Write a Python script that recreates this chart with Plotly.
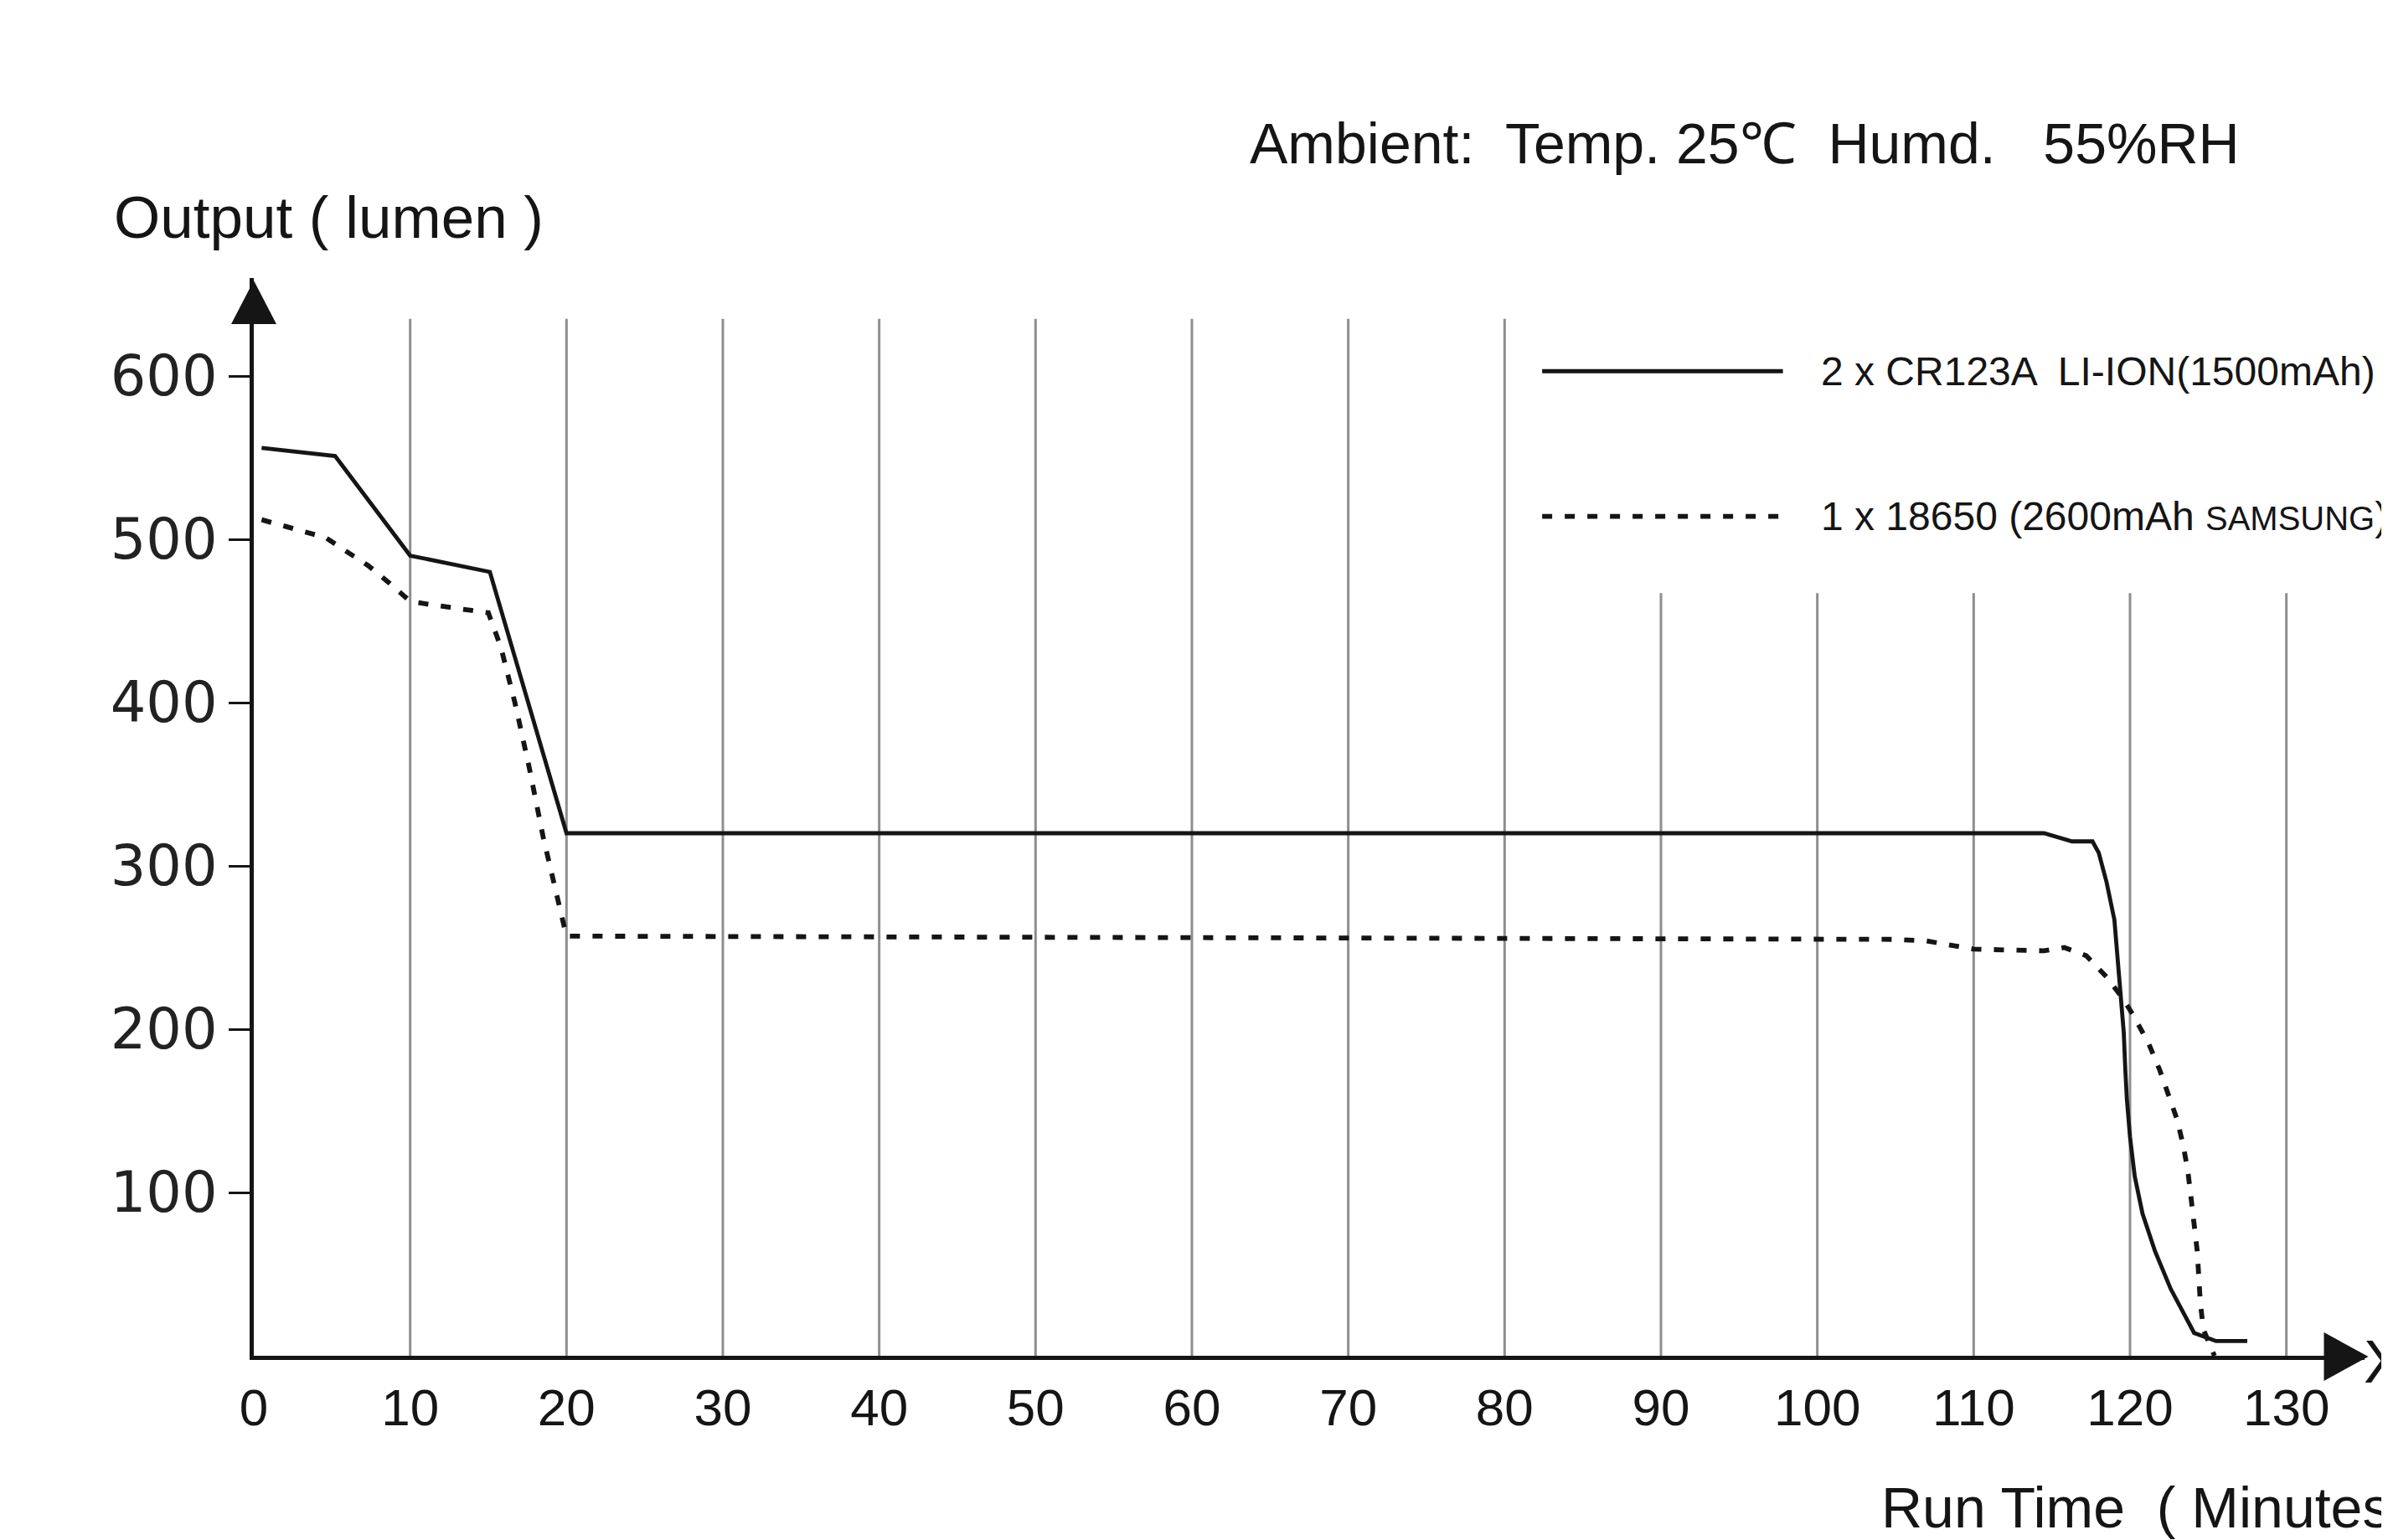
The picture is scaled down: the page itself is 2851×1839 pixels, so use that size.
import plotly.graph_objects as go

# ---------------- data ----------------
cr123_time = [0.5, 5.2, 10, 15.1, 20, 114.5, 116.3, 117.6, 118.0, 118.5, 119.0, 119.2, 119.4,
              119.6, 119.7, 119.8, 120.0, 120.3, 120.8, 121.6, 122.6, 124.1, 125.5, 127.5]
cr123_lumen = [556, 551, 490, 480, 320, 320, 315, 315, 308, 290, 267, 244, 221,
               198, 175, 157, 134, 110, 87, 64, 41, 14, 9, 9]

li18650_time = [0.5, 4.6, 5.7, 7.3, 8.7, 10, 11.3, 15.0, 15.8, 16.7, 17.6, 18.5, 19.6, 20,
                105, 107, 110, 114.5, 115.8, 117.2, 118.5, 119.6, 120.3, 121.2, 121.9, 122.5,
                123.0, 123.4, 123.7, 123.9, 124.1, 124.3, 124.4, 124.5, 124.7, 125.4]
li18650_lumen = [512, 501, 494, 484, 473, 462, 460, 455, 434, 400, 361, 318, 273, 257,
                 255, 254, 249, 248, 250, 245, 232, 218, 207, 191, 175, 159,
                 145, 129, 113, 97, 81, 64, 48, 32, 16, 0]

x_ticks = [0, 10, 20, 30, 40, 50, 60, 70, 80, 90, 100, 110, 120, 130]
x_ticktext = [str(v) for v in x_ticks]
y_ticks = [100, 200, 300, 400, 500, 600]
y_ticktext = [str(v) for v in y_ticks]
grid_x = [10, 20, 30, 40, 50, 60, 70, 80, 90, 100, 110, 120, 130]

series_names = ["2 x CR123A  LI-ION(1500mAh)",
                "1 x 18650 (2600mAh <span style='font-size:40px'>SAMSUNG</span>)"]

# ---------------- layout geometry ----------------
W, H = 2851, 1839
L, T = 295, 324
X_RANGE = [0, 135]
Y_RANGE = [0, 660]
PW = 2520.5
PH = 1287
R = W - L - PW
B = H - T - PH

SANS = "Liberation Sans, Arial, sans-serif"
WIDE = "DejaVu Sans, Verdana, sans-serif"
INK = "#151515"


def px(x):
    return (x - L) / PW


def py(y):
    return (T + PH - y) / PH


fig = go.Figure()
fig.add_trace(go.Scatter(x=cr123_time, y=cr123_lumen, mode="lines",
                         line=dict(color=INK, width=4.8), name=series_names[0],
                         showlegend=False))
fig.add_trace(go.Scatter(x=li18650_time, y=li18650_lumen, mode="lines",
                         line=dict(color=INK, width=5.8, dash="12px,15px"),
                         name=series_names[1], showlegend=False))

shapes = []
for g in grid_x:
    shapes.append(dict(type="line", xref="x", yref="y", x0=g, x1=g, y0=0, y1=635,
                       line=dict(color="#8e8e8e", width=3), layer="below"))
# legend backdrop (hides the upper part of the right-hand grid lines)
shapes.append(dict(type="rect", xref="x", yref="y", x0=82, x1=135, y0=467, y1=660,
                   fillcolor="white", line=dict(width=0), layer="below"))
# legend samples
shapes.append(dict(type="line", xref="x", yref="y", x0=82.4, x1=97.8, y0=603, y1=603,
                   line=dict(color=INK, width=5), layer="above"))
shapes.append(dict(type="line", xref="x", yref="y", x0=82.4, x1=97.8, y0=514, y1=514,
                   line=dict(color=INK, width=5.8, dash="12px,15px"), layer="above"))
# axis arrows
shapes.append(dict(type="path", xref="paper", yref="paper",
                   path=f"M {px(295)} {py(327)} L {px(268)} {py(379)} L {px(322)} {py(379)} Z",
                   fillcolor=INK, line=dict(width=0), layer="above"))
shapes.append(dict(type="path", xref="paper", yref="paper",
                   path=f"M {px(2820)} {py(1612)} L {px(2767)} {py(1583)} L {px(2767)} {py(1641)} Z",
                   fillcolor=INK, line=dict(width=0), layer="above"))

annotations = [
    dict(text="Output ( lumen )", xref="paper", yref="paper", x=px(126), y=py(252),
         xanchor="left", yanchor="middle", showarrow=False,
         font=dict(family=SANS, size=71, color=INK)),
    dict(text="Ambient:  Temp. 25℃  Humd.   55%RH", xref="paper", yref="paper",
         x=px(1482), y=py(163), xanchor="left", yanchor="middle", showarrow=False,
         font=dict(family=SANS, size=68, color=INK)),
    dict(text="Run Time  ( Minutes )", xref="paper", yref="paper", x=px(2236), y=py(1792),
         xanchor="left", yanchor="middle", showarrow=False,
         font=dict(family=SANS, size=68, color=INK)),
    dict(text="X", xref="paper", yref="paper", x=px(2812), y=py(1618),
         xanchor="left", yanchor="middle", showarrow=False,
         font=dict(family=SANS, size=72, color=INK)),
    dict(text=series_names[0], xref="x", yref="y", x=100.1, y=603,
         xanchor="left", yanchor="middle", showarrow=False,
         font=dict(family=SANS, size=48, color=INK)),
    dict(text=series_names[1], xref="x", yref="y", x=100.1, y=514,
         xanchor="left", yanchor="middle", showarrow=False,
         font=dict(family=SANS, size=48, color=INK)),
]

fig.update_layout(
    width=W, height=H,
    paper_bgcolor="white", plot_bgcolor="white",
    margin=dict(l=L, r=R, t=T, b=B, autoexpand=False),
    shapes=shapes, annotations=annotations, showlegend=False,
    xaxis=dict(range=X_RANGE, showgrid=False, zeroline=False, showline=True,
               linecolor=INK, linewidth=5, tickmode="array", tickvals=x_ticks,
               ticktext=x_ticktext, ticks="", ticklabelstandoff=4,
               tickfont=dict(family=SANS, size=62, color=INK), automargin=False),
    yaxis=dict(range=Y_RANGE, showgrid=False, zeroline=False, showline=True,
               linecolor=INK, linewidth=5, tickmode="array", tickvals=y_ticks,
               ticktext=y_ticktext, ticks="outside", ticklen=25, tickwidth=3,
               tickcolor=INK, tickfont=dict(family=WIDE, size=67, color="#222"),
               automargin=False),
)

fig.write_html("out.html")
